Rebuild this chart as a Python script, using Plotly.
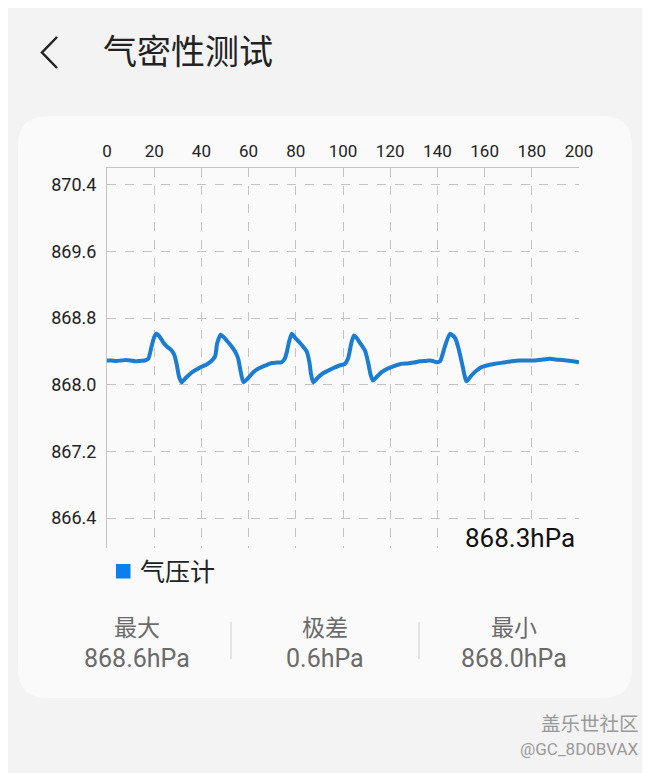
import plotly.graph_objects as go

# ---- data ----
time_s = [0, 2, 4, 6, 8, 10, 12, 14, 16, 17.5, 18.9, 20, 21, 22.5, 24, 25.3, 27.4, 28.5, 29.5, 30.5,
          31.6, 33, 34.8, 36.6, 38.5, 40.5, 42, 43.6, 45.8, 46.7, 48.2, 49.5, 50.7, 52.5, 54.2, 55.5,
          56.7, 57.8, 59.5, 62, 64, 66.2, 68, 69.8, 72, 74, 75.3, 76.1, 77.2, 78.3, 79.8, 81.8, 83.3,
          84.6, 85.7, 86.5, 87.4, 89.5, 91.7, 93.8, 95.9, 98.5, 100.8, 102.2, 103.7, 104.7, 105.8,
          107.2, 109.3, 110.7, 111.7, 112.6, 114.5, 116.4, 118.8, 121.3, 124, 127, 130, 132.6, 135,
          136.9, 138.5, 139.7, 141.1, 143.2, 145.3, 147.5, 148.9, 150.7, 151.6, 152.3, 154.4, 156.6,
          158.7, 160.9, 164.5, 168, 171.5, 175, 178, 180.5, 184, 187.7, 191, 194.8, 197.5, 200]
pressure_hpa = [868.29, 868.29, 868.285, 868.29, 868.295, 868.29, 868.28, 868.285, 868.29, 868.31,
                868.46, 868.57, 868.61, 868.57, 868.50, 868.46, 868.41, 868.36, 868.25, 868.10,
                868.03, 868.07, 868.12, 868.16, 868.19, 868.22, 868.24, 868.27, 868.34, 868.50,
                868.60, 868.57, 868.53, 868.47, 868.40, 868.32, 868.15, 868.03, 868.07, 868.15,
                868.19, 868.22, 868.24, 868.26, 868.265, 868.27, 868.31, 868.38, 868.52, 868.61,
                868.56, 868.50, 868.45, 868.40, 868.28, 868.12, 868.03, 868.09, 868.14, 868.17,
                868.20, 868.23, 868.25, 868.32, 868.52, 868.59, 868.56, 868.50, 868.41, 868.26,
                868.12, 868.05, 868.10, 868.15, 868.19, 868.22, 868.245, 868.255, 868.265, 868.28,
                868.285, 868.29, 868.28, 868.27, 868.28, 868.46, 868.61, 868.56, 868.44, 868.22,
                868.10, 868.04, 868.11, 868.17, 868.21, 868.23, 868.25, 868.265, 868.28, 868.29,
                868.29, 868.29, 868.30, 868.31, 868.30, 868.29, 868.28, 868.27]
x_ticks = [0, 20, 40, 60, 80, 100, 120, 140, 160, 180, 200]
y_ticks = [866.4, 867.2, 868.0, 868.8, 869.6, 870.4]
y_tick_labels = ["866.4", "867.2", "868.0", "868.8", "869.6", "870.4"]
title_text = "气密性测试"
series_name = "气压计"
current_text = "868.3hPa"
stat_labels = ["最大", "极差", "最小"]
stat_values = ["868.6hPa", "0.6hPa", "868.0hPa"]
watermark = ["盖乐世社区", "@GC_8D0BVAX"]

# page body has an 8px default margin; the figure is offset accordingly
OFF = 8
W, H = 650 - OFF, 773 - OFF
L, R, T, B = 107, 579, 168, 548   # plot area in window pixels
FONT = "Roboto, 'Noto Sans CJK SC', sans-serif"


def px(x):
    return (x - L) / (R - L)


def py(y):
    return (B - y) / (B - T)


fig = go.Figure()
fig.add_trace(go.Scatter(x=time_s, y=pressure_hpa, mode="lines", name=series_name,
                         line=dict(color="#1b7dd2", width=4, shape="spline", smoothing=0.6),
                         showlegend=False, hoverinfo="skip"))

shapes = []
# card
x0, x1, y0, y1, r = 18, 632, 116, 698, 30
path = (f"M {px(x0 + r)},{py(y0)} L {px(x1 - r)},{py(y0)} Q {px(x1)},{py(y0)} {px(x1)},{py(y0 + r)} "
        f"L {px(x1)},{py(y1 - r)} Q {px(x1)},{py(y1)} {px(x1 - r)},{py(y1)} "
        f"L {px(x0 + r)},{py(y1)} Q {px(x0)},{py(y1)} {px(x0)},{py(y1 - r)} "
        f"L {px(x0)},{py(y0 + r)} Q {px(x0)},{py(y0)} {px(x0 + r)},{py(y0)} Z")
shapes.append(dict(type="path", path=path, xref="paper", yref="paper", fillcolor="#fafafa",
                   line=dict(width=0), layer="below"))
# back arrow
shapes.append(dict(type="path", xref="paper", yref="paper",
                   path=f"M {px(57)},{py(37)} L {px(42)},{py(52.5)} L {px(57)},{py(68)}",
                   line=dict(color="#222222", width=2.5)))
# legend square
shapes.append(dict(type="rect", xref="paper", yref="paper", x0=px(116), x1=px(130.5), y0=py(564),
                   y1=py(578.5), fillcolor="#0a7ff0", line=dict(width=0)))
# dividers
for dx in (231, 419):
    shapes.append(dict(type="line", xref="paper", yref="paper", x0=px(dx), x1=px(dx), y0=py(622),
                       y1=py(659), line=dict(color="#dcdcdc", width=1.5)))

ann = []
ann.append(dict(text=title_text, x=px(101), y=py(52), xanchor="left", yanchor="middle",
                font=dict(size=34, color="#222222", family=FONT)))
ann.append(dict(text=current_text, x=px(577), y=py(538), xanchor="right", yanchor="middle",
                font=dict(size=26, color="#111111", family=FONT)))
ann.append(dict(text=series_name, x=px(138), y=py(572), xanchor="left", yanchor="middle",
                font=dict(size=25, color="#222222", family=FONT)))
for cx, lab, val in zip((137, 325, 514), stat_labels, stat_values):
    ann.append(dict(text=lab, x=px(cx), y=py(628), xanchor="center", yanchor="middle",
                    font=dict(size=23, color="#6a6a6a", family=FONT)))
    ann.append(dict(text=val, x=px(cx), y=py(658), xanchor="center", yanchor="middle",
                    font=dict(size=25, color="#6a6a6a", family=FONT)))
ann.append(dict(text=watermark[0], x=px(641), y=py(724), xanchor="right", yanchor="middle",
                font=dict(size=19.5, color="#9a9a9a", family=FONT)))
ann.append(dict(text=watermark[1], x=px(641), y=py(749), xanchor="right", yanchor="middle",
                font=dict(size=17, color="#9a9a9a", family=FONT)))
for a in ann:
    a.update(xref="paper", yref="paper", showarrow=False)

fig.update_layout(
    width=W, height=H,
    margin=dict(l=L - OFF, r=650 - R, t=T - OFF, b=773 - B),
    paper_bgcolor="#f3f3f3", plot_bgcolor="#fafafa",
    shapes=shapes, annotations=ann, showlegend=False,
    font=dict(family=FONT, color="#333333"),
    xaxis=dict(range=[0, 200], side="top", tickvals=x_ticks, showgrid=True, gridcolor="#c4c4c4",
               griddash="dash", gridwidth=1, showline=True, linecolor="#c4c4c4", linewidth=1,
               ticks="inside", ticklen=5, tickcolor="#c4c4c4", zeroline=False,
               ticklabelstandoff=3, tickfont=dict(size=17, color="#222222")),
    yaxis=dict(range=[866.04, 870.6], tickvals=y_ticks, ticktext=y_tick_labels, showgrid=True,
               gridcolor="#c4c4c4", griddash="dash", gridwidth=1, showline=True,
               linecolor="#c4c4c4", linewidth=1, ticks="", zeroline=False,
               ticklabelstandoff=6, tickfont=dict(size=18, color="#222222")),
)
fig.write_html("out.html")
